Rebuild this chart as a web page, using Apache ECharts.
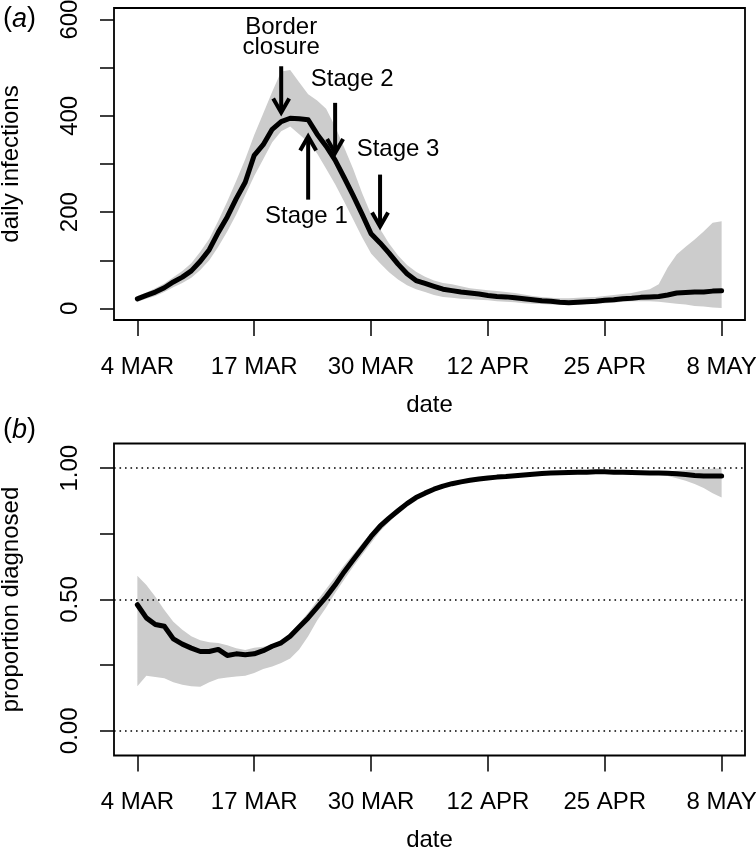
<!DOCTYPE html>
<html><head><meta charset="utf-8">
<script src="https://cdn.jsdelivr.net/npm/echarts@6/dist/echarts.min.js"></script>
<style>html,body{margin:0;padding:0;background:#fff}#c{width:756px;height:851px}</style>
</head><body><div id="c"></div>
<script>
// ---- data (day index 0 = 4 MAR) ----
const tickDays = [0, 13, 26, 39, 52, 65];
const tickLabels = ['4 MAR', '17 MAR', '30 MAR', '12 APR', '25 APR', '8 MAY'];

const infMean = [20,27,34,43,55,65,78,98,122,158,
  190,228,262,318,340,372,388,395,394,392,
  362,337,308,272,235,196,155,136,115,92,
  72,58,52,46,40,37,34,32,30,27,
  25,24,22,20,18,16,15,13,12,13,
  14,15,17,18,20,21,23,24,25,28,
  32,33,34,34,36,37];
const infLower = [14,20,26,34,44,53,64,80,100,128,
  160,195,235,275,310,345,368,378,362,345,
  322,290,258,222,185,148,114,94,75,60,
  48,40,34,28,24,22,20,19,18,17,
  15,14,13,11,10,9,8,8,8,8,
  9,10,11,12,14,15,15,15,14,12,
  10,8,5,4,2,1];
const infUpper = [26,33,42,52,65,78,94,118,145,182,
  222,265,310,360,405,450,492,495,470,445,
  432,415,378,335,290,240,195,165,135,110,
  90,76,66,58,53,50,46,42,40,38,
  36,34,32,29,26,24,22,21,21,22,
  23,24,26,28,30,32,36,40,50,85,
  112,128,143,160,178,181];

const propMean = [0.48,0.43,0.405,0.398,0.35,0.33,0.315,0.302,0.302,0.31,
  0.287,0.293,0.29,0.293,0.305,0.322,0.335,0.36,0.395,0.43,
  0.47,0.51,0.555,0.605,0.65,0.695,0.74,0.779,0.81,0.838,
  0.865,0.888,0.905,0.92,0.932,0.941,0.948,0.954,0.959,0.963,
  0.966,0.968,0.971,0.974,0.977,0.98,0.982,0.983,0.984,0.985,
  0.985,0.986,0.986,0.985,0.985,0.984,0.983,0.982,0.982,0.981,
  0.979,0.976,0.972,0.97,0.97,0.97];
const propLower = [0.17,0.21,0.205,0.2,0.185,0.175,0.17,0.168,0.185,0.198,
  0.203,0.207,0.21,0.22,0.235,0.245,0.258,0.275,0.31,0.36,
  0.42,0.47,0.525,0.575,0.625,0.67,0.715,0.76,0.795,0.828,
  0.857,0.88,0.898,0.914,0.927,0.937,0.945,0.951,0.956,0.96,
  0.962,0.964,0.967,0.97,0.973,0.976,0.978,0.979,0.98,0.981,
  0.981,0.982,0.982,0.981,0.981,0.98,0.979,0.977,0.975,0.97,
  0.962,0.952,0.94,0.925,0.905,0.888];
const propUpper = [0.59,0.555,0.51,0.46,0.415,0.385,0.36,0.345,0.337,0.334,
  0.326,0.314,0.308,0.316,0.32,0.327,0.342,0.372,0.41,0.45,
  0.495,0.54,0.585,0.63,0.672,0.713,0.755,0.792,0.823,0.85,
  0.875,0.895,0.912,0.926,0.937,0.946,0.953,0.959,0.964,0.968,
  0.971,0.973,0.976,0.979,0.982,0.985,0.987,0.988,0.989,0.99,
  0.99,0.991,0.991,0.99,0.99,0.989,0.988,0.987,0.987,0.988,
  0.99,0.992,0.994,0.996,0.998,1.0];

// annotation arrows (day, from value, to value) and texts (day, value)
const arrowDay = [16.0, 19.0, 22.0, 27.0];
const arrowFrom = [503, 226, 427, 278];
const arrowTo = [407, 357, 323, 170];
const noteText = ['Border\nclosure', 'Stage 1', 'Stage 2', 'Stage 3'];
const noteDay = [16.0, 18.8, 23.9, 29.0];
const noteVal = [563, 191, 475, 330];

const refLines = [0, 0.5, 1];

// ---- chart ----
const FONT = 'Liberation Sans, Arial, Helvetica, sans-serif';
const chart = echarts.init(document.getElementById('c'), null, {renderer: 'canvas'});

function xAxisCfg(g) {
  return {
    type: 'value', gridIndex: g, min: -2.6, max: 67.6, position: 'bottom',
    name: 'date', nameLocation: 'middle', nameGap: 73,
    nameTextStyle: {fontSize: 24, fontFamily: FONT, color: '#000', lineHeight: 24},
    axisLine: {show: false, onZero: false}, splitLine: {show: false},
    axisTick: {show: true, inside: false, customValues: tickDays, length: 16, lineStyle: {color: '#000', width: 1.5}},
    axisLabel: {customValues: tickDays, margin: 35, fontSize: 24, fontFamily: FONT, color: '#000', lineHeight: 24,
      formatter: v => tickLabels[tickDays.indexOf(v)]}
  };
}
function bandSeries(g, lower, upper) {
  return {
    type: 'custom', xAxisIndex: g, yAxisIndex: g, data: [[0, lower[0]]], silent: true, z: 1,
    renderItem: (params, api) => {
      const pts = [];
      for (let i = 0; i < lower.length; i++) pts.push(api.coord([i, lower[i]]));
      for (let i = upper.length - 1; i >= 0; i--) pts.push(api.coord([i, upper[i]]));
      return {type: 'polygon', shape: {points: pts}, style: {fill: '#cccccc'}};
    }
  };
}
function lineSeries(g, vals, extra) {
  return Object.assign({
    type: 'line', xAxisIndex: g, yAxisIndex: g, data: vals.map((v, i) => [i, v]),
    showSymbol: false, symbol: 'none', silent: true, z: 3,
    lineStyle: {color: '#000', width: 5, join: 'round', cap: 'round'}
  }, extra || {});
}
function yAxisCfg(g, name, min, max, ticks, labels, fmt) {
  return {type: 'value', gridIndex: g, min: min, max: max, position: 'left',
    name: name, nameLocation: 'middle', nameGap: 91,
    nameTextStyle: {fontSize: 24, fontFamily: FONT, color: '#000', lineHeight: 24},
    axisLine: {show: false, onZero: false}, splitLine: {show: false},
    axisTick: {show: true, inside: false, customValues: ticks, length: 14, lineStyle: {color: '#000', width: 1.5}},
    axisLabel: {customValues: labels, rotate: 90, margin: 32, fontSize: 24, fontFamily: FONT, color: '#000', lineHeight: 24,
      formatter: fmt}};
}
const titleRich = {
  p: {fontSize: 27, fontFamily: FONT, fontWeight: 'normal', color: '#000', lineHeight: 30},
  i: {fontSize: 27, fontFamily: FONT, fontWeight: 'normal', fontStyle: 'italic', color: '#000', lineHeight: 30}
};

const option = {
  animation: false,
  backgroundColor: '#fff',
  title: [
    {text: '{p|(}{i|a}{p|)}', left: 3, top: 4, padding: 0, textStyle: {fontWeight: 'normal', rich: titleRich}},
    {text: '{p|(}{i|b}{p|)}', left: 3, top: 415, padding: 0, textStyle: {fontWeight: 'normal', rich: titleRich}}
  ],
  grid: [
    {left: 114, top: 8, width: 631, height: 312, show: true, borderColor: '#000', borderWidth: 1.8,
      backgroundColor: 'transparent', containLabel: false, outerBoundsMode: 'none'},
    {left: 114, top: 443.5, width: 631, height: 312, show: true, borderColor: '#000', borderWidth: 1.8,
      backgroundColor: 'transparent', containLabel: false, outerBoundsMode: 'none'}
  ],
  xAxis: [xAxisCfg(0), xAxisCfg(1)],
  yAxis: [
    yAxisCfg(0, 'daily infections', -24, 624, [0, 100, 200, 300, 400, 500, 600], [0, 200, 400, 600], v => String(v)),
    yAxisCfg(1, 'proportion diagnosed', -0.094, 1.094, [0, 0.25, 0.5, 0.75, 1], [0, 0.5, 1], v => v.toFixed(2))
  ],
  series: [
    bandSeries(0, infLower, infUpper),
    lineSeries(0, infMean),
    {
      type: 'custom', xAxisIndex: 0, yAxisIndex: 0, silent: true, z: 5,
      data: arrowDay.map((d, i) => [d, arrowFrom[i], arrowTo[i]]),
      renderItem: (params, api) => {
        const p0 = api.coord([api.value(0), api.value(1)]);
        const p1 = api.coord([api.value(0), api.value(2)]);
        const dir = Math.sign(p1[1] - p0[1]);
        const L = 14, H = 8;
        return {type: 'group', children: [
          {type: 'line', shape: {x1: p0[0], y1: p0[1], x2: p1[0], y2: p1[1] - dir * 2}, style: {stroke: '#000', lineWidth: 4}},
          {type: 'polyline', shape: {points: [[p1[0] - H, p1[1] - dir * L], [p1[0], p1[1]], [p1[0] + H, p1[1] - dir * L]]},
            style: {stroke: '#000', lineWidth: 4, fill: null, lineJoin: 'miter'}}
        ]};
      }
    },
    {
      type: 'custom', xAxisIndex: 0, yAxisIndex: 0, silent: true, z: 6,
      data: noteDay.map((d, i) => [d, noteVal[i], i]),
      renderItem: (params, api) => {
        const p = api.coord([api.value(0), api.value(1)]);
        return {type: 'text', x: p[0], y: p[1], style: {text: noteText[api.value(2)], fill: '#000',
          fontSize: 24, fontFamily: FONT, align: 'center', verticalAlign: 'middle', lineHeight: 20}};
      }
    },
    bandSeries(1, propLower, propUpper),
    lineSeries(1, propMean, {
      markLine: {silent: true, symbol: ['none', 'none'], label: {show: false},
        lineStyle: {color: '#000', width: 1.6, type: [1.6, 3.9]},
        data: refLines.map(v => ({yAxis: v}))}
    })
  ]
};
chart.setOption(option);
</script></body></html>
